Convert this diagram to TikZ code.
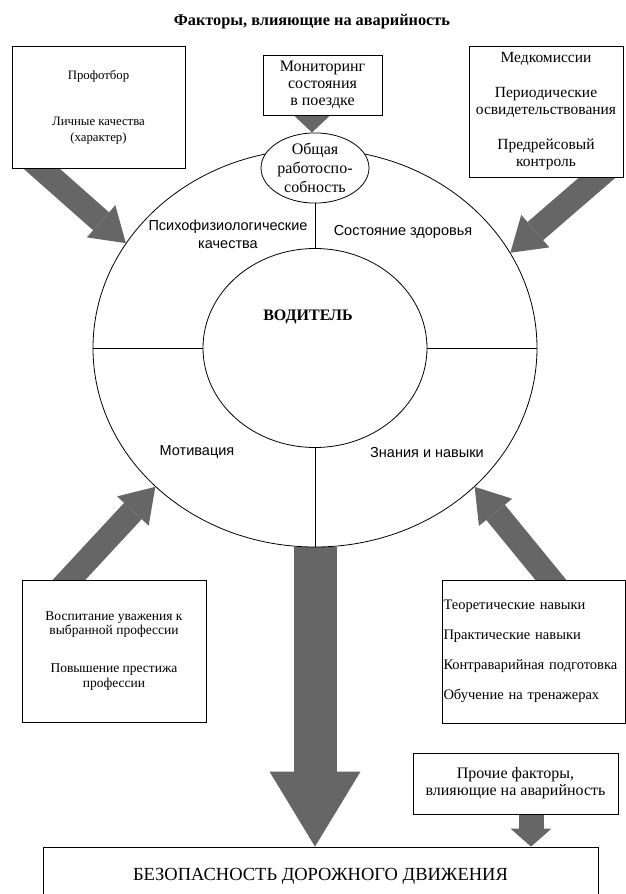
\documentclass[tikz,border=0pt]{standalone}
\usepackage{fontspec}
\setmainfont{Liberation Serif}
\setsansfont{Liberation Sans}
\usetikzlibrary{shapes.geometric}
\usetikzlibrary{arrows.meta}
\usetikzlibrary{backgrounds}

\begin{document}
\begin{tikzpicture}[x=1pt, y=-1pt,
		box/.style={draw, fill=white, line width=0.8pt, align=center, inner sep=0pt, font=\fontsize{16}{17}\selectfont},
		lbl/.style={font=\sffamily\fontsize{14.5}{18}\selectfont, align=center},
		fatarrow/.style={black!60, line width=24pt, -{Triangle[width=43pt,length=33pt,line width=0pt]}}]
				\useasboundingbox (0,0) rectangle (626,894);
				
				\node[font=\bfseries\fontsize{16.3}{19}\selectfont] (title) at (312,22) {Факторы, влияющие на аварийность};
				
				\node[box, minimum width=173pt, minimum height=122pt, font=\fontsize{12.8}{15.5}\selectfont] (sel) at (98.5,107) {Профотбор\\[31pt]Личные качества\\(характер)};
				\node[box, minimum width=119pt, minimum height=60pt] (mon) at (322.5,85) {Мониторинг\\состояния\\в поездке};
				\node[box, minimum width=154pt, minimum height=131pt, font=\fontsize{15.5}{17}\selectfont] (med) at (546,111.5) {Медкомиссии\\[18pt]Периодические\\освидетельствования\\[18pt]Предрейсовый\\контроль};
				
				\node[ellipse, draw, line width=0.8pt, minimum width=444pt, minimum height=398pt, inner sep=0pt] (big) at (315,348) {};
				\node[ellipse, draw, line width=0.8pt, minimum width=224pt, minimum height=199pt, inner sep=0pt] (drv) at (315,348) {};
				\node[box, ellipse, minimum width=108pt, minimum height=63pt, font=\fontsize{16}{19}\selectfont] (gen) at (315,168) {Общая\\работоспо-\\собность};
				
				\node[font=\bfseries\fontsize{16}{18}\selectfont] (drvlbl) at (308,317) {ВОДИТЕЛЬ};
				\node[lbl] (psy) at (228,234) {Психофизиологические\\качества};
				\node[lbl] (hlth) at (403,232) {Состояние здоровья};
				\node[lbl] (mot) at (197,452) {Мотивация};
				\node[lbl] (skl) at (427,453) {Знания и навыки};
				
				\draw[line width=0.8pt] (gen.south) -- (drv.north);
				\draw[line width=0.8pt] (drv.south) -- (big.south);
				\draw[line width=0.8pt] (big.west) -- (drv.west);
				\draw[line width=0.8pt] (drv.east) -- (big.east);
				
				\node[box, minimum width=184pt, minimum height=142pt, font=\fontsize{13.5}{14.5}\selectfont] (resp) at (114,651) {Воспитание уважения к\\выбранной профессии\\[23.5pt]Повышение престижа\\профессии};
				\node[box, text width=180pt, inner xsep=1.5pt, minimum height=143pt, align=left, font=\fontsize{14.5}{17}\selectfont] (trn) at (533.5,651.5) {Теоретические навыки\\[13pt]Практические навыки\\[13pt]Контраварийная подготовка\\[13pt]Обучение на тренажерах};
				\node[box, minimum width=205pt, minimum height=61pt] (oth) at (515.5,783.5) {Прочие факторы,\\влияющие на аварийность};
				\node[box, minimum width=555pt, minimum height=58pt, font=\fontsize{18.5}{20}\selectfont] (safe) at (320.5,876) {БЕЗОПАСНОСТЬ ДОРОЖНОГО ДВИЖЕНИЯ};
				
				\coordinate (selfoot) at (25,154);
				\coordinate (medfoot) at (613,164);
				\coordinate (respfoot) at (55,595);
				\coordinate (trnfoot) at (564,596);
				\coordinate (monfoot) at (312,108);
				\coordinate (othfoot) at (531,805);
				
				\begin{scope}[on background layer]
					\draw[fatarrow] (selfoot) -- (big.151.5);
					\draw[fatarrow] (medfoot) -- (big.26.7);
					\draw[fatarrow] (respfoot) -- (big.221.5);
					\draw[fatarrow] (trnfoot) -- (big.319.2);
					\draw[black!60, line width=20pt, -{Triangle[width=36pt,length=17pt,line width=0pt]}] (monfoot) -- (monfoot |- gen.north);
					\draw[black!60, line width=43pt, -{Triangle[width=91pt,length=75pt,line width=0pt]}] (big.south) -- (big.south |- safe.north);
					\draw[black!60, line width=25pt, -{Triangle[width=41pt,length=18pt,line width=0pt]}] (othfoot) -- (othfoot |- safe.north);
				\end{scope}
			\end{tikzpicture}
\end{document}
